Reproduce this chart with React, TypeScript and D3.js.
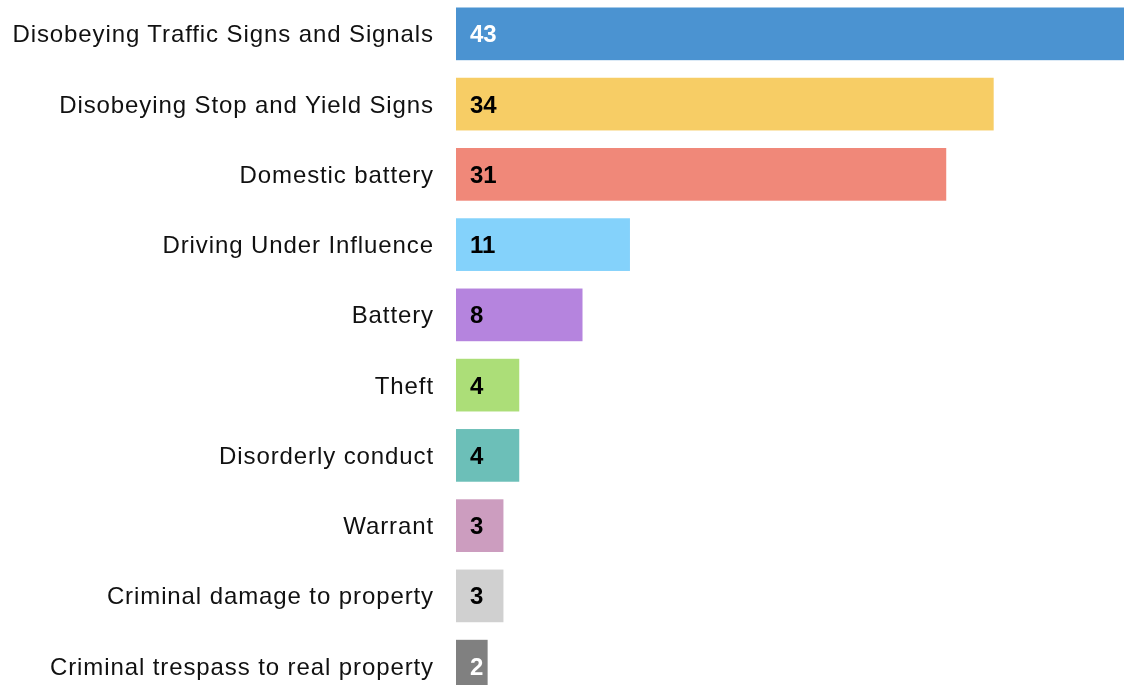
import { useEffect, useRef } from 'react'
import * as d3 from 'd3'

const categories = [
  'Disobeying Traffic Signs and Signals',
  'Disobeying Stop and Yield Signs',
  'Domestic battery',
  'Driving Under Influence',
  'Battery',
  'Theft',
  'Disorderly conduct',
  'Warrant',
  'Criminal damage to property',
  'Criminal trespass to real property',
]
const counts = [43, 34, 31, 11, 8, 4, 4, 3, 3, 2]
const colors = [
  '#4b93d1', '#f7cd65', '#f08879', '#84d2fb', '#b584de',
  '#acde78', '#6cbfb8', '#cc9dbf', '#d0d0d0', '#808080',
]
const textColors = ['#ffffff', '#000', '#000', '#000', '#000', '#000', '#000', '#000', '#000', '#ffffff']

export default function App() {
  const svgRef = useRef<SVGSVGElement>(null)
  const width = 1124
  const height = 685

  useEffect(() => {
    if (!svgRef.current) return
    const svg = d3.select(svgRef.current)
    svg.selectAll('*').remove()

    const left = 456
    const x = d3.scaleLinear().domain([0, 43]).range([0, 680])
    const y = d3.scaleBand<string>()
      .domain(categories)
      .range([7.5, 692.5])
      .paddingInner(0.25)
      .paddingOuter(0)

    const data = categories.map((c, i) => ({ c, v: counts[i], i }))

    svg.append('g')
      .selectAll('rect')
      .data(data)
      .join('rect')
      .attr('x', left)
      .attr('y', d => y(d.c)!)
      .attr('width', d => x(d.v))
      .attr('height', y.bandwidth())
      .attr('fill', d => colors[d.i])

    // category labels
    svg.append('g')
      .selectAll('text')
      .data(data)
      .join('text')
      .attr('x', 434)
      .attr('y', d => y(d.c)! + y.bandwidth() / 2)
      .attr('text-anchor', 'end')
      .attr('dominant-baseline', 'central')
      .style('font-family', '"Liberation Sans", Arial, sans-serif')
      .style('font-size', '24px')
      .style('letter-spacing', '0.9px')
      .attr('fill', '#111')
      .text(d => d.c)

    // value labels
    svg.append('g')
      .selectAll('text')
      .data(data)
      .join('text')
      .attr('x', left + 14)
      .attr('y', d => y(d.c)! + y.bandwidth() / 2)
      .attr('dominant-baseline', 'central')
      .style('font-family', '"Liberation Sans", Arial, sans-serif')
      .style('font-size', '24px')
      .style('font-weight', 'bold')
      .attr('fill', d => textColors[d.i])
      .text(d => d.v)
  }, [])

  return (
    <div style={{ position: 'fixed', left: 0, top: 0, width, height, overflow: 'hidden' }}>
      <svg ref={svgRef} width={width} height={height} style={{ display: 'block' }} />
    </div>
  )
}
